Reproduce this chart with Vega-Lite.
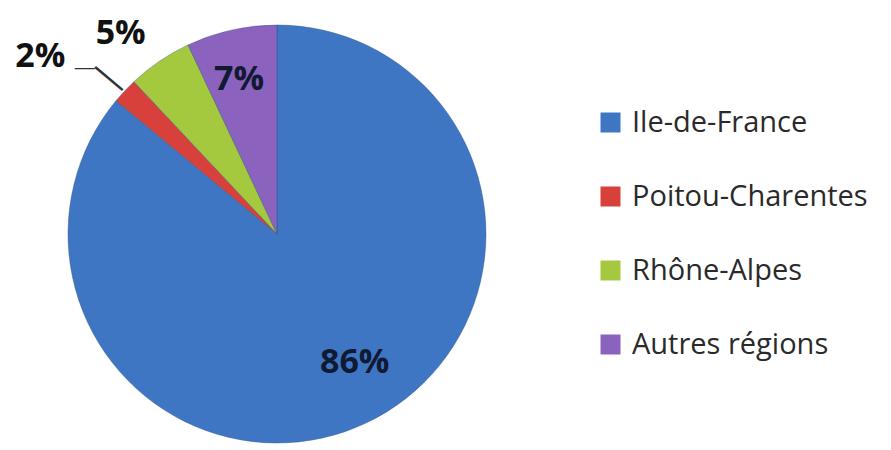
{
  "$schema": "https://vega.github.io/schema/vega-lite/v6.json",
  "width": 554,
  "height": 468,
  "autosize": "none",
  "padding": {"left": 0, "top": 0, "right": 337, "bottom": 0},
  "background": "#ffffff",
  "view": {"stroke": null},
  "data": {
    "values": [
      {"region": "Ile-de-France", "value": 86, "label": "86%", "idx": 1, "pos": "in"},
      {"region": "Poitou-Charentes", "value": 2, "label": "2%", "idx": 2, "pos": "out2"},
      {"region": "Rhône-Alpes", "value": 5, "label": "5%", "idx": 3, "pos": "out5"},
      {"region": "Autres régions", "value": 7, "label": "7%", "idx": 4, "pos": "in"}
    ]
  },
  "encoding": {
    "theta": {"field": "value", "type": "quantitative", "stack": true},
    "order": {"field": "idx", "type": "quantitative"},
    "detail": {"field": "region"}
  },
  "layer": [
    {
      "mark": {"type": "arc", "outerRadius": 209, "stroke": "#2b4f80", "strokeWidth": 0.8, "strokeOpacity": 0.5},
      "encoding": {
        "color": {
          "field": "region",
          "type": "nominal",
          "sort": ["Ile-de-France", "Poitou-Charentes", "Rhône-Alpes", "Autres régions"],
          "scale": {
            "domain": ["Ile-de-France", "Poitou-Charentes", "Rhône-Alpes", "Autres régions"],
            "range": ["#3F76C4", "#D8403B", "#A4C83E", "#8B63BE"]
          },
          "legend": {
            "title": null,
            "orient": "none",
            "legendX": 596,
            "legendY": 108,
            "symbolType": "square",
            "symbolSize": 400,
            "symbolStrokeWidth": 0,
            "symbolOpacity": 1,
            "labelFont": "Open Sans",
            "labelFontSize": 29,
            "labelColor": "#2a2a2a",
            "labelOffset": 7,
            "rowPadding": 44,
            "labelLimit": 400
          }
        }
      }
    },
    {
      "mark": {"type": "text", "radius": 152, "font": "Open Sans", "fontSize": 34, "fontWeight": "bold", "color": "#111a33", "dx": 13, "dy": -9},
      "encoding": {"text": {"condition": {"test": "datum.region == 'Ile-de-France'", "field": "label"}, "value": ""}}
    },
    {
      "mark": {"type": "text", "radius": 160, "font": "Open Sans", "fontSize": 34, "fontWeight": "bold", "color": "#111a33", "dx": -3, "dy": 2},
      "encoding": {"text": {"condition": {"test": "datum.region == 'Autres régions'", "field": "label"}, "value": ""}}
    },
    {
      "mark": {"type": "text", "radius": 255, "font": "Open Sans", "fontSize": 34, "fontWeight": "bold", "color": "#111111", "dx": -13, "dy": 11},
      "encoding": {"text": {"condition": {"test": "datum.pos == 'out5'", "field": "label"}, "value": ""}}
    },
    {
      "mark": {"type": "text", "radius": 296, "font": "Open Sans", "fontSize": 34, "fontWeight": "bold", "color": "#111111", "dx": -21, "dy": 26},
      "encoding": {"text": {"condition": {"test": "datum.pos == 'out2'", "field": "label"}, "value": ""}}
    },
    {
      "mark": {"type": "text", "radius": 229, "font": "Liberation Sans", "fontSize": 36, "angle": 40, "color": "#333333", "baseline": "middle", "align": "center"},
      "encoding": {"text": {"condition": {"test": "datum.pos == 'out2'", "value": "—"}, "value": ""}}
    },
    {
      "mark": {"type": "text", "radius": 254, "font": "Liberation Sans", "fontSize": 20, "color": "#333333", "baseline": "middle", "align": "center", "dx": -7, "dy": 8},
      "encoding": {"text": {"condition": {"test": "datum.pos == 'out2'", "value": "—"}, "value": ""}}
    }
  ]
}
